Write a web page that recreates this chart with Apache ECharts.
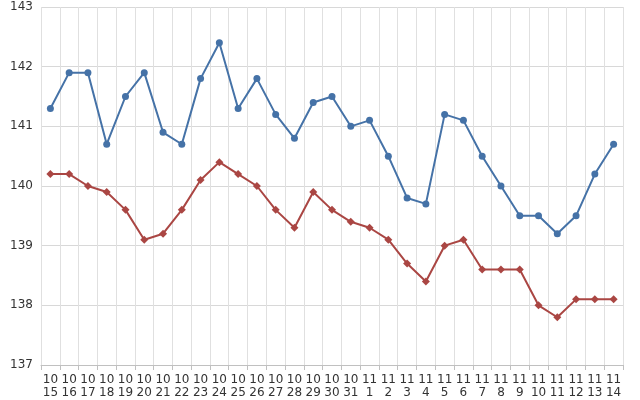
<!DOCTYPE html>
<html lang="en">
  <head>
    <meta charset="UTF-8" />
    <title>Chart</title>
    <script src="https://cdn.jsdelivr.net/npm/echarts@6/dist/echarts.min.js"></script>
  </head>
  <body style="margin:0">
    <div id="main" style="width: 640px; height: 400px"></div>
    <script type="text/javascript">
      const categories = ["10\n15","10\n16","10\n17","10\n18","10\n19","10\n20","10\n21","10\n22","10\n23","10\n24","10\n25","10\n26","10\n27","10\n28","10\n29","10\n30","10\n31",
        "11\n1","11\n2","11\n3","11\n4","11\n5","11\n6","11\n7","11\n8","11\n9","11\n10","11\n11","11\n12","11\n13","11\n14"];
      const blueValues = [141.3,141.9,141.9,140.7,141.5,141.9,140.9,140.7,141.8,142.4,141.3,141.8,141.2,140.8,141.4,141.5,141.0,141.1,140.5,139.8,139.7,141.2,141.1,140.5,140.0,139.5,139.5,139.2,139.5,140.2,140.7];
      const redValues = [140.2,140.2,140.0,139.9,139.6,139.1,139.2,139.6,140.1,140.4,140.2,140.0,139.6,139.3,139.9,139.6,139.4,139.3,139.1,138.7,138.4,139.0,139.1,138.6,138.6,138.6,138.0,137.8,138.1,138.1,138.1];

      let myChart = echarts.init(document.getElementById("main"));
      myChart.setOption({
        animation: false,
        grid: { left: 41, right: 17, top: 7, bottom: 35 },
        xAxis: {
          type: "category",
          data: categories,
          boundaryGap: true,
          axisLine: { lineStyle: { color: "#c0c0c0" } },
          axisTick: { show: true, lineStyle: { color: "#c0c0c0" } },
          axisLabel: { color: "#333", fontSize: 12, interval: 0, lineHeight: 13, fontFamily: "DejaVu Sans" },
          splitLine: { show: true, lineStyle: { color: "#e0e0e0" } },
        },
        yAxis: {
          type: "value",
          min: 137,
          max: 143,
          interval: 1,
          axisLabel: { color: "#333", fontSize: 12, fontFamily: "DejaVu Sans" },
          axisLine: { show: false },
          splitLine: { lineStyle: { color: "#d8d8d8" } },
        },
        series: [
          {
            type: "line",
            data: blueValues,
            symbol: "circle",
            symbolSize: 7,
            color: "#4572A7",
            lineStyle: { width: 2 },
          },
          {
            type: "line",
            data: redValues,
            symbol: "diamond",
            symbolSize: 8,
            color: "#AA4643",
            lineStyle: { width: 2 },
          },
        ],
      });
    </script>
  </body>
</html>
